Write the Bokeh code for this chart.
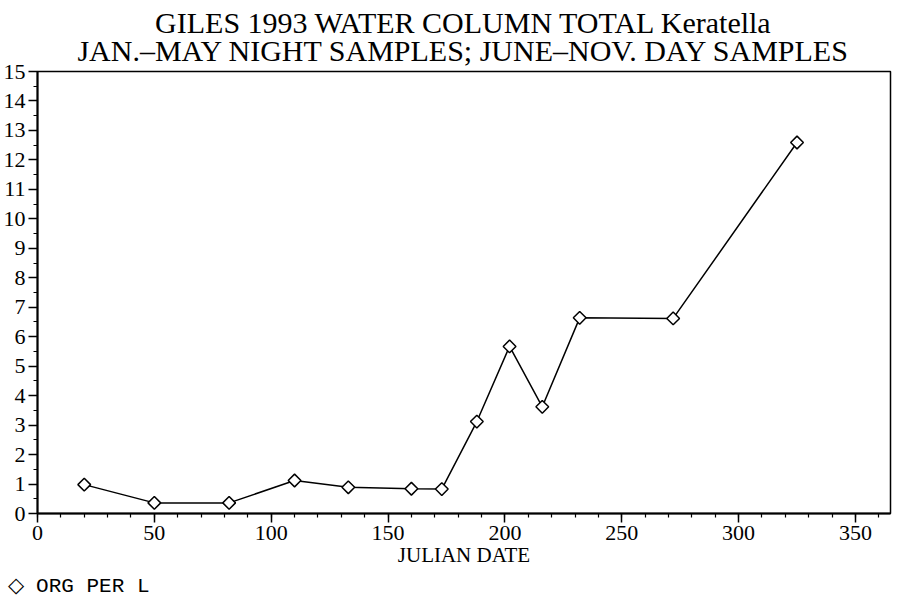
import math
from bokeh.plotting import figure
from bokeh.models import Range1d, SingleIntervalTicker, Title
from bokeh.embed import file_html
from bokeh.resources import INLINE

# ---- data ----
julian_day = [20, 50, 82, 110, 133, 160, 173, 188, 202, 216, 232, 272, 325]
org_per_l = [0.98, 0.36, 0.36, 1.12, 0.89, 0.84, 0.83, 3.12, 5.67, 3.62, 6.64, 6.62, 12.59]

title_line1 = "GILES 1993 WATER COLUMN TOTAL Keratella"
title_line2 = "JAN.\u2013MAY NIGHT SAMPLES; JUNE\u2013NOV. DAY SAMPLES"
x_label = "JULIAN DATE"
series_label = "ORG PER L"
series_symbol = "\u25c7"

SERIF = "Liberation Serif"

p = figure(width=893, height=600,
           x_range=Range1d(0, 365), y_range=Range1d(0, 15),
           output_backend="svg", toolbar_location=None,
           min_border_left=34, min_border_right=3, min_border_top=65,
           min_border_bottom=87)

title = Title(text=title_line1 + "\n" + title_line2, align="center",
              text_font=SERIF, text_font_size="30px",
              text_font_style="normal", text_color="black",
              text_line_height=0.85, standoff=8, offset=14)
try:
    title.text_align = "center"
except Exception:
    pass
p.add_layout(title, "above")

p.grid.visible = False
p.outline_line_color = "black"
p.outline_line_width = 1.5
p.background_fill_color = "white"
p.border_fill_color = "white"

p.xaxis.ticker = SingleIntervalTicker(interval=50, num_minor_ticks=5)
p.yaxis.ticker = SingleIntervalTicker(interval=1, num_minor_ticks=2)

for ax in (p.xaxis[0], p.yaxis[0]):
    ax.axis_line_color = "black"
    ax.axis_line_width = 2
    ax.major_tick_line_color = "black"
    ax.major_tick_line_width = 1.5
    ax.minor_tick_line_color = "black"
    ax.minor_tick_line_width = 1.2
    ax.major_tick_out = 9
    ax.major_tick_in = 0
    ax.minor_tick_out = 4
    ax.minor_tick_in = 0
    ax.major_label_text_font = SERIF
    ax.major_label_text_font_size = "22px"
    ax.major_label_text_color = "black"
    ax.major_label_standoff = 3

p.xaxis.axis_label = x_label
p.xaxis.axis_label_text_font = SERIF
p.xaxis.axis_label_text_font_size = "21px"
p.xaxis.axis_label_text_font_style = "normal"
p.xaxis.axis_label_text_color = "black"
p.xaxis.axis_label_standoff = 0

p.line(julian_day, org_per_l, line_color="black", line_width=1.5)
p.scatter(julian_day, org_per_l, marker="square", angle=math.pi / 4, size=9,
          fill_color="white", line_color="black", line_width=1.5)

# legend line under the axis, as in the reference
p.add_layout(Title(text=series_symbol + " " + series_label, align="left",
                   text_font="Liberation Mono", text_font_size="21px",
                   text_font_style="normal", text_color="black",
                   standoff=6, offset=-30), "below")

open("out.html", "w").write(file_html(p, INLINE))
